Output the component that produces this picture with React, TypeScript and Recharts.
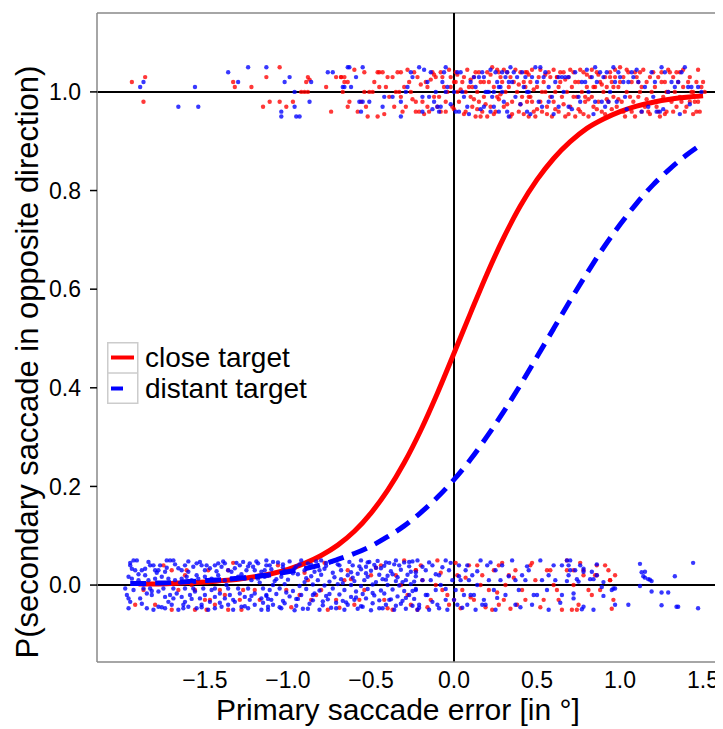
import { ComposedChart, Scatter, Line, XAxis, YAxis, ReferenceLine, Legend } from 'recharts'

const FONT = '"Liberation Sans", Arial, Helvetica, sans-serif'

const xTicks = [-1.5, -1, -0.5, 0, 0.5, 1, 1.5]
const yTicks = [0, 0.2, 0.4, 0.6, 0.8, 1]

// fitted curves
const curveX = [-1.95, -1.9, -1.8, -1.7, -1.6, -1.5, -1.4, -1.3, -1.2, -1.1, -1.0, -0.9, -0.8, -0.7, -0.6, -0.5, -0.4, -0.3, -0.2, -0.1, 0.0,
    0.1, 0.2, 0.3, 0.4, 0.5, 0.6, 0.7, 0.8, 0.9, 1.0, 1.1, 1.2, 1.3, 1.4, 1.5]
const closeCurve = [null, 0.002, 0.002, 0.003, 0.005, 0.006, 0.009, 0.012, 0.017, 0.023, 0.032, 0.044, 0.06, 0.081, 0.109, 0.146, 0.192, 0.248, 0.314, 0.389, 0.47,
    0.552, 0.632, 0.705, 0.769, 0.822, 0.865, 0.899, 0.926, 0.945, 0.96, 0.971, 0.979, 0.985, 0.989, 0.992]
const distantCurve = [0.003, 0.003, 0.004, 0.005, 0.007, 0.009, 0.011, 0.014, 0.017, 0.021, 0.027, 0.033, 0.041, 0.052, 0.064, 0.079, 0.098, 0.12, 0.147, 0.178, 0.214,
    0.255, 0.302, 0.352, 0.406, 0.463, 0.52, 0.577, 0.632, 0.684, 0.731, 0.774, 0.812, 0.844, 0.872, 0.896]

// jittered trials: [error, response]
const closeTop: [number, number][] = [
    [-1.94, 1.02], [-1.86, 1.03], [-1.87, 0.98], [-1.33, 1.02], [-1.32, 1.01], [-1.22, 1.01], [-1.13, 1.03], [-1.05, 1.05], [-1.15, 0.97], [-1.11, 0.98],
    [-1.05, 0.98], [-1.01, 0.97], [-0.97, 0.98], [-0.88, 1.03], [-0.87, 1.025], [-0.89, 1.02], [-0.92, 1.0], [-0.9, 1.0], [-0.88, 1.0], [-0.77, 1.01],
    [-0.74, 0.96], [-0.71, 1.03], [-0.68, 1.03], [-0.66, 1.02],
    [-0.68, 1.03], [-0.66, 1.03], [-0.64, 1.02], [-0.63, 0.98], [-0.64, 0.97], [-0.58, 0.96], [-0.56, 0.98], [-0.54, 1.04], [-0.51, 1.0], [-0.46, 1.04],
    [-0.45, 1.04], [-0.46, 0.95], [-0.43, 1.04], [-0.4, 1.03], [-0.39, 0.99], [-0.41, 1.01], [-0.37, 1.03], [-0.36, 0.97], [-0.34, 1.04], [-0.32, 1.04],
    [-0.32, 0.99], [-0.3, 1.01], [-0.31, 0.96], [-0.29, 0.97], [-0.27, 1.02], [-0.26, 1.0], [-0.24, 1.04], [-0.22, 1.03], [-0.23, 0.98], [-0.21, 0.96],
    [-0.19, 0.98], [-0.17, 1.02], [-0.16, 1.01], [-0.16, 0.97], [-0.13, 1.04], [-0.12, 0.99], [-0.11, 1.03], [-0.1, 0.97], [-0.08, 1.04], [-0.07, 1.03],
    [-0.06, 1.01], [-0.05, 0.98], [-0.05, 0.96], [-0.04, 1.0], [-0.02, 1.03], [-0.02, 1.01], [-0.01, 0.97], [0.01, 1.02], [0.01, 1.04], [0.02, 1.0],
    [0.03, 0.98], [0.05, 1.02], [0.06, 1.03], [0.07, 1.0], [0.07, 0.96], [0.09, 1.01], [0.1, 0.99], [0.11, 0.97], [0.12, 1.03], [0.13, 1.04],
    [0.14, 1.0], [0.15, 0.98], [0.16, 1.02], [0.17, 0.96], [0.18, 0.99], [0.2, 1.04], [0.21, 1.02], [0.22, 0.97], [0.23, 1.05], [0.24, 1.01],
    [0.25, 0.96], [0.26, 0.99], [0.27, 1.04], [0.28, 1.03], [0.3, 0.97], [0.31, 1.0], [0.32, 1.04], [0.33, 1.01], [0.34, 0.95], [0.35, 0.98],
    [0.36, 1.02], [0.38, 1.0], [0.39, 0.96], [0.4, 1.04], [0.41, 0.99], [0.42, 1.02], [0.43, 1.04], [0.44, 0.98], [0.45, 0.95], [0.2, 0.95],
    [0.16, 0.95], [-0.23, 0.96], [-0.15, 0.96], [-0.49, 1.0], [-0.54, 1.0], [-0.67, 1.0], [-0.33, 1.0], [-0.45, 1.01], [-0.08, 0.96], [-0.52, 0.95],
    [0.13, 0.95],
    [0.44, 1.04], [0.46, 1.02], [0.45, 0.99], [0.47, 0.98], [0.48, 0.96], [0.49, 0.95], [0.5, 1.01], [0.51, 1.03], [0.52, 0.98], [0.53, 0.96],
    [0.54, 1.02], [0.55, 1.0], [0.56, 0.97], [0.57, 1.04], [0.58, 1.03], [0.59, 0.95], [0.6, 0.98], [0.61, 1.0], [0.62, 1.03], [0.63, 0.96],
    [0.64, 1.02], [0.65, 0.99], [0.66, 1.04], [0.67, 0.95], [0.68, 1.0], [0.69, 1.03], [0.7, 0.97], [0.71, 1.01], [0.72, 1.04], [0.73, 0.95],
    [0.74, 0.99], [0.75, 1.02], [0.76, 0.96], [0.77, 1.0], [0.78, 1.04], [0.79, 0.98], [0.8, 1.01], [0.81, 0.95], [0.82, 1.03], [0.83, 0.99],
    [0.84, 0.97], [0.85, 1.01], [0.86, 1.04], [0.87, 0.98], [0.88, 1.02], [0.89, 0.96], [0.9, 1.0], [0.91, 1.03], [0.92, 1.01], [0.93, 0.98],
    [0.94, 1.04], [0.95, 1.02], [0.96, 0.99], [0.97, 1.03], [0.98, 0.97], [0.99, 1.01], [1.0, 1.05], [1.01, 0.98], [1.02, 1.03], [1.03, 0.95],
    [1.04, 1.0], [1.05, 1.04], [1.07, 1.02], [1.08, 0.98], [1.09, 0.95], [1.1, 1.03], [1.11, 0.99], [1.12, 1.04], [1.13, 1.01], [1.15, 0.97],
    [1.16, 1.02], [1.17, 0.96], [1.18, 1.03], [1.19, 1.0], [1.21, 1.01], [1.22, 0.97], [1.23, 1.03], [1.24, 0.95], [1.25, 1.04], [1.26, 0.99],
    [1.27, 1.02], [1.28, 0.96], [1.29, 1.0], [1.3, 1.04], [1.31, 0.98], [1.32, 1.03], [1.33, 1.0], [1.34, 0.97], [1.35, 1.02], [1.36, 1.04],
    [1.37, 0.98], [1.38, 1.01], [1.39, 0.96], [1.41, 1.02], [1.42, 0.98], [1.43, 1.0], [1.44, 1.0], [1.45, 0.98], [1.46, 0.96], [1.47, 0.98],
    [1.48, 0.96], [1.49, 1.01], [1.5, 1.02], [1.51, 1.0],
    [-0.28, 1.045], [-0.25, 0.985], [-0.2, 1.015], [-0.18, 0.955], [-0.14, 1.025], [-0.12, 1.035], [-0.09, 0.99], [-0.03, 1.045], [0.0, 0.965], [0.02, 1.035],
    [0.04, 1.005], [0.06, 0.955], [0.08, 1.045], [0.1, 1.025], [0.12, 0.985], [0.14, 0.965], [0.15, 1.04], [0.18, 1.02], [0.19, 0.975], [0.22, 1.035],
    [0.24, 0.955], [0.26, 1.045], [0.27, 0.985], [0.29, 1.02], [0.3, 1.045], [0.32, 0.975], [0.34, 1.03], [0.35, 0.955], [0.37, 1.045], [0.39, 1.015],
    [0.4, 0.975], [0.42, 0.955], [0.43, 1.01], [0.45, 1.035], [0.47, 1.045], [0.48, 1.005], [0.5, 0.965], [0.52, 1.045], [0.53, 1.0], [0.55, 1.035],
    [0.56, 0.955], [0.58, 0.99], [0.6, 1.045], [0.61, 0.965], [0.63, 1.01], [0.64, 1.04], [0.66, 0.975], [0.67, 1.025], [0.69, 0.955], [0.7, 1.045],
    [0.72, 0.99], [0.73, 1.02], [0.75, 0.965], [0.76, 1.045], [0.78, 0.955], [0.8, 1.035], [0.81, 0.985], [0.83, 1.045], [0.84, 1.01], [0.86, 0.965],
    [0.87, 1.035], [0.89, 1.015], [0.91, 0.955], [0.92, 0.985], [0.94, 1.03], [0.95, 0.965], [0.97, 1.045], [0.99, 0.985], [1.0, 1.02], [1.02, 0.96],
    [1.04, 1.045], [1.06, 0.99], [1.07, 0.96], [1.09, 1.04], [1.11, 1.02], [1.13, 0.96], [1.14, 1.045], [1.16, 0.985], [1.18, 0.955], [1.2, 1.04],
    [1.21, 0.98], [1.23, 0.96], [1.25, 1.02], [1.27, 0.955], [1.29, 1.045], [1.3, 0.985], [1.32, 0.96], [1.34, 1.04], [1.36, 0.99], [1.38, 1.045],
    [1.4, 0.97], [1.42, 1.03], [1.44, 0.955], [1.46, 1.02], [1.47, 1.045], [-0.6, 1.045], [-0.53, 0.97], [-0.48, 1.02], [-0.42, 0.955], [-0.35, 1.0],
    [0.0, 1.02], [0.11, 1.01], [0.28, 0.995], [0.46, 0.99], [0.62, 1.03], [0.79, 0.99], [0.96, 1.01], [1.12, 1.0], [1.28, 1.0]
]

const distantTop: [number, number][] = [
    [-1.87, 1.02], [-1.89, 1.01], [-1.56, 1.01], [-1.66, 0.97], [-1.54, 0.97], [-1.36, 1.04], [-1.3, 1.02], [-1.24, 1.05], [-1.13, 1.05], [-0.99, 1.03],
    [-1.02, 1.02], [-0.96, 1.0], [-0.86, 1.02], [-1.04, 0.96], [-1.04, 0.95], [-0.96, 0.97], [-0.95, 0.95], [-0.93, 0.95], [-0.87, 0.98], [-0.76, 1.04],
    [-0.73, 1.04], [-0.66, 1.01],
    [-0.64, 1.05], [-0.63, 1.05], [-0.59, 1.03], [-0.55, 1.05], [-0.67, 1.01], [-0.62, 1.01], [-0.57, 0.98], [-0.55, 0.98], [-0.51, 0.98], [-0.56, 0.96],
    [-0.42, 0.99], [-0.43, 0.97], [-0.37, 0.99], [-0.32, 0.95], [-0.32, 0.98], [-0.29, 1.0], [-0.28, 1.01], [-0.26, 1.04], [-0.25, 1.03], [-0.21, 1.05],
    [-0.19, 0.99], [-0.19, 0.96], [-0.16, 1.02], [-0.14, 1.04], [-0.15, 0.99], [-0.11, 1.0], [-0.12, 0.98], [-0.1, 0.97], [-0.09, 0.96], [-0.08, 0.97],
    [-0.06, 1.04], [-0.05, 1.05], [-0.05, 1.0], [-0.04, 1.01], [0.0, 1.0], [0.01, 0.96], [0.03, 0.96], [0.04, 1.04], [0.08, 0.97], [0.1, 1.02],
    [0.12, 1.03], [0.15, 1.03], [0.17, 1.04], [0.18, 1.03], [0.19, 1.0], [0.2, 1.0], [0.21, 1.0], [0.23, 0.99], [0.24, 1.0], [0.25, 1.04],
    [0.26, 1.02], [0.28, 1.01], [0.29, 1.0], [0.3, 0.98], [0.31, 1.03], [0.32, 0.96], [0.33, 0.95], [0.34, 1.05], [0.35, 1.02], [0.36, 1.04],
    [0.37, 0.99], [0.38, 1.03], [0.41, 1.04], [0.43, 1.03], [0.44, 1.0], [0.32, 1.04], [0.29, 1.04], [0.24, 0.97], [0.22, 0.96], [0.18, 0.97],
    [0.49, 1.05], [0.47, 1.03], [0.45, 1.0], [0.44, 0.96], [0.52, 1.05], [0.54, 1.03], [0.55, 1.04], [0.57, 1.01], [0.59, 0.99], [0.61, 1.02],
    [0.63, 1.03], [0.65, 1.03], [0.67, 1.03], [0.69, 1.03], [0.73, 1.04], [0.75, 0.99], [0.76, 0.98], [0.77, 1.02], [0.79, 1.02], [0.81, 1.0],
    [0.83, 1.03], [0.85, 1.05], [0.86, 1.02], [0.88, 1.04], [0.9, 1.03], [0.92, 1.04], [0.94, 1.0], [0.96, 1.05], [0.97, 1.02], [0.98, 0.98],
    [1.0, 1.03], [1.02, 1.02], [1.03, 0.99], [1.05, 1.02], [1.07, 1.04], [1.08, 1.03], [1.11, 1.02], [1.13, 0.96], [1.15, 1.01], [1.17, 0.97],
    [1.19, 1.04], [1.21, 1.02], [1.22, 0.96], [1.24, 0.96], [1.25, 1.05], [1.27, 1.04], [1.29, 1.0], [1.31, 1.02], [1.33, 1.01], [1.35, 1.02],
    [1.37, 1.04], [1.39, 1.05], [1.41, 1.01], [1.43, 1.01], [1.47, 1.01], [1.49, 1.0], [0.51, 0.98], [0.57, 0.98], [0.63, 0.97], [0.69, 0.97],
    [0.89, 0.98], [0.93, 0.98], [0.85, 0.98],
    [-0.18, 1.045], [-0.13, 0.965], [-0.07, 1.02], [-0.02, 0.975], [0.02, 1.04], [0.06, 0.99], [0.09, 0.955], [0.13, 1.01], [0.16, 0.965], [0.22, 1.045],
    [0.27, 0.96], [0.33, 1.02], [0.4, 0.975], [0.46, 0.955], [0.5, 1.02], [0.53, 0.97], [0.6, 0.955], [0.66, 1.0], [0.71, 0.965], [0.8, 1.045],
    [0.84, 0.955], [0.91, 0.97], [0.99, 1.04], [1.04, 0.965], [1.1, 1.045], [1.2, 0.99], [1.26, 0.965], [1.36, 0.955], [1.42, 0.975], [0.05, 1.0],
    [0.27, 1.01], [0.42, 1.01]
]

const closeBottom: [number, number][] = [
    [-1.75, 0.04], [-1.61, 0.03], [-1.58, 0.0], [-1.48, 0.03], [-1.7, 0.03], [-1.87, -0.01], [-1.66, -0.01], [-1.56, -0.01], [-1.5, -0.03], [-1.47, -0.03],
    [-1.44, -0.04], [-1.29, -0.03], [-1.8, -0.04], [-1.7, -0.05], [-1.56, -0.05], [-1.49, -0.05], [-1.36, -0.05], [-1.28, -0.05], [-1.38, -0.02], [-1.27, -0.01],
    [-1.2, -0.01], [-1.36, 0.03],
    [-1.12, 0.02], [-1.01, -0.01], [-0.93, -0.02], [-0.86, -0.03], [-0.8, -0.01], [-0.76, -0.05], [-0.71, -0.03], [-0.66, 0.01], [-0.6, -0.04], [-0.54, -0.01],
    [-0.5, 0.02], [-0.42, -0.03], [-0.37, -0.05], [-0.32, 0.0], [-0.26, -0.04], [-0.23, 0.03], [-0.3, 0.05], [-0.88, 0.01], [-0.64, 0.03], [-0.44, 0.04],
    [-0.23, 0.03], [-0.19, 0.01], [-0.14, -0.03], [-0.1, 0.05], [-0.07, -0.01], [-0.03, -0.04], [0.02, 0.02], [0.05, -0.01], [0.09, 0.04], [0.12, -0.03],
    [0.17, 0.02], [0.21, -0.01], [0.27, 0.04], [0.3, -0.03], [0.33, 0.02], [0.38, -0.04], [0.41, -0.01], [0.46, 0.04], [0.49, 0.01], [0.54, -0.03],
    [0.58, 0.03], [0.62, -0.01], [0.65, -0.05], [0.68, 0.05], [0.23, -0.05], [0.37, 0.03], [0.31, 0.0], [0.27, -0.04], [0.16, 0.0], [-0.11, 0.0],
    [-0.22, -0.05], [0.0, -0.03],
    [0.68, 0.03], [0.72, 0.03], [0.78, 0.03], [0.78, 0.02], [0.86, 0.04], [0.86, 0.02], [0.85, 0.02], [0.93, 0.03], [0.97, 0.02], [0.94, 0.01],
    [0.94, 0.01], [0.72, 0.0], [0.81, -0.01], [0.88, -0.01], [0.96, -0.03], [0.71, -0.05], [0.74, -0.05], [0.75, -0.04],
    [-1.92, -0.04], [-1.62, 0.02], [-1.41, -0.01], [-1.33, 0.045], [-1.17, -0.03], [-1.06, 0.04], [-0.98, -0.045], [-0.9, 0.025], [-0.83, -0.02], [-0.78, 0.045],
    [-0.69, -0.046], [-0.62, 0.012], [-0.57, -0.03], [-0.47, 0.035], [-0.4, -0.047], [-0.35, 0.02], [-0.28, -0.02], [-0.2, 0.04], [-0.16, -0.045], [-0.08, 0.025],
    [-0.04, -0.02], [0.01, 0.045], [0.04, -0.047], [0.07, 0.015], [0.1, -0.025], [0.14, 0.04], [0.19, -0.045], [0.24, 0.03], [0.26, -0.015], [0.29, 0.045],
    [0.34, -0.048], [0.36, 0.015], [0.43, -0.03], [0.47, 0.045], [0.52, -0.045], [0.56, 0.03], [0.6, 0.0], [0.63, -0.03], [0.76, 0.045], [0.83, -0.02],
    [0.91, 0.04], [0.95, -0.048]
]

const distantBottom: [number, number][] = [
    [-1.95, 0.04], [-1.93, 0.05], [-1.91, 0.05], [-1.92, 0.03], [-1.94, 0.033], [-1.88, 0.03], [-1.86, 0.033], [-1.83, 0.04], [-1.81, 0.04], [-1.8, 0.03],
    [-1.78, 0.03], [-1.77, 0.04], [-1.73, 0.05], [-1.71, 0.05], [-1.69, 0.05], [-1.74, 0.027], [-1.66, 0.034], [-1.64, 0.03], [-1.62, 0.04], [-1.6, 0.027],
    [-1.57, 0.037], [-1.55, 0.044], [-1.53, 0.047], [-1.52, 0.04], [-1.5, 0.03], [-1.47, 0.034], [-1.44, 0.04], [-1.42, 0.044], [-1.4, 0.037], [-1.38, 0.044],
    [-1.36, 0.03], [-1.34, 0.027], [-1.32, 0.034], [-1.29, 0.04], [-1.27, 0.047], [-1.25, 0.03], [-1.23, 0.044], [-1.21, 0.037], [-1.2, 0.03], [-1.18, 0.044],
    [-1.16, 0.027], [-1.13, 0.04], [-1.12, 0.02],
    [-1.96, 0.017], [-1.94, 0.013], [-1.9, 0.01], [-1.86, 0.02], [-1.84, 0.01], [-1.8, 0.013], [-1.76, 0.017], [-1.72, 0.013], [-1.68, 0.01], [-1.64, 0.013],
    [-1.61, 0.017], [-1.58, 0.01], [-1.54, 0.013], [-1.5, 0.017], [-1.46, 0.013], [-1.42, 0.02], [-1.38, 0.01], [-1.34, 0.013], [-1.3, 0.017], [-1.26, 0.013],
    [-1.22, 0.01], [-1.18, 0.013], [-1.14, 0.017],
    [-1.97, -0.02], [-1.96, -0.027], [-1.95, -0.034], [-1.96, -0.047], [-1.89, -0.027], [-1.85, -0.017], [-1.82, -0.02], [-1.78, -0.013], [-1.74, -0.024], [-1.72, -0.034],
    [-1.69, -0.027], [-1.67, -0.017], [-1.64, -0.024], [-1.62, -0.034], [-1.59, -0.02], [-1.56, -0.013], [-1.53, -0.027], [-1.5, -0.02], [-1.47, -0.034], [-1.44, -0.024],
    [-1.41, -0.017], [-1.38, -0.027], [-1.35, -0.02], [-1.32, -0.034], [-1.29, -0.017], [-1.26, -0.024], [-1.23, -0.03], [-1.2, -0.017], [-1.16, -0.027], [-1.13, -0.02],
    [-1.85, -0.047], [-1.81, -0.05], [-1.78, -0.044], [-1.74, -0.047], [-1.7, -0.04], [-1.66, -0.05], [-1.63, -0.047], [-1.6, -0.044], [-1.55, -0.047], [-1.52, -0.04],
    [-1.48, -0.05], [-1.44, -0.047], [-1.4, -0.044], [-1.36, -0.04], [-1.33, -0.05], [-1.28, -0.044], [-1.24, -0.047], [-1.2, -0.04], [-1.16, -0.05], [-1.12, -0.044],
    [-1.98, -0.007], [-1.93, -0.01], [-1.87, -0.007], [-1.83, -0.007], [-1.75, -0.007], [-1.69, -0.007], [-1.62, -0.007], [-1.57, -0.007], [-1.51, -0.007], [-1.44, -0.007],
    [-1.36, -0.007], [-1.3, -0.007], [-1.24, -0.007], [-1.15, -0.007],
    [-1.13, 0.05], [-1.06, 0.046], [-0.92, 0.05], [-0.88, 0.044], [-0.8, 0.05], [-0.74, 0.047], [-0.56, 0.05], [-0.52, 0.046], [-0.46, 0.049], [-0.39, 0.045],
    [-0.35, 0.05], [-0.3, 0.046], [-0.25, 0.048],
    [-1.1, 0.032], [-1.02, 0.028], [-0.96, 0.034], [-0.9, 0.03], [-0.84, 0.027], [-0.78, 0.033], [-0.68, 0.03], [-0.62, 0.026], [-0.56, 0.032], [-0.5, 0.029],
    [-0.44, 0.034], [-0.38, 0.028], [-0.32, 0.031], [-0.26, 0.027],
    [-1.12, 0.02], [-1.04, 0.017], [-0.94, 0.022], [-0.86, 0.018], [-0.8, 0.021], [-0.72, 0.016], [-0.64, 0.02], [-0.58, 0.023], [-0.52, 0.017], [-0.45, 0.021],
    [-0.4, 0.019], [-0.34, 0.016], [-0.28, 0.021], [-0.23, 0.018],
    [-1.08, 0.008], [-1.0, 0.011], [-0.9, 0.006], [-0.82, 0.01], [-0.75, 0.007], [-0.68, 0.012], [-0.6, 0.008], [-0.54, 0.01], [-0.47, 0.006], [-0.41, 0.011],
    [-0.35, 0.008], [-0.29, 0.01], [-0.24, 0.007],
    [-1.11, -0.01], [-1.05, -0.007], [-0.97, -0.012], [-0.89, -0.008], [-0.81, -0.011], [-0.73, -0.007], [-0.66, -0.01], [-0.59, -0.013], [-0.52, -0.008], [-0.44, -0.011],
    [-0.37, -0.009], [-0.3, -0.012], [-0.23, -0.008],
    [-1.13, -0.022], [-1.07, -0.018], [-0.99, -0.023], [-0.92, -0.02], [-0.84, -0.017], [-0.77, -0.022], [-0.69, -0.019], [-0.62, -0.024], [-0.55, -0.018], [-0.48, -0.021],
    [-0.42, -0.017], [-0.34, -0.023], [-0.27, -0.02],
    [-1.09, -0.04], [-1.02, -0.037], [-0.95, -0.042], [-0.87, -0.038], [-0.79, -0.041], [-0.71, -0.036], [-0.64, -0.04], [-0.56, -0.043], [-0.49, -0.037], [-0.41, -0.04],
    [-0.32, -0.038], [-0.25, -0.042],
    [-1.12, -0.05], [-1.04, -0.047], [-0.96, -0.051], [-0.88, -0.048], [-0.81, -0.05], [-0.74, -0.046], [-0.66, -0.05], [-0.58, -0.048], [-0.5, -0.051], [-0.43, -0.047],
    [-0.36, -0.05], [-0.29, -0.048], [-0.22, -0.05],
    [-1.11, 0.04], [-1.03, 0.042], [-0.95, 0.038], [-0.86, 0.041], [-0.77, 0.039], [-0.7, 0.042], [-0.61, 0.04], [-0.53, 0.037], [-0.48, 0.041], [-0.42, 0.039],
    [-0.36, 0.042], [-0.27, 0.038],
    [-1.09, 0.0], [-1.02, 0.002], [-0.93, -0.002], [-0.85, 0.001], [-0.78, -0.001], [-0.7, 0.002], [-0.62, 0.0], [-0.56, -0.002], [-0.49, 0.001], [-0.4, 0.0],
    [-0.33, -0.001], [-0.26, 0.002],
    [-1.1, -0.03], [-1.03, -0.032], [-0.94, -0.028], [-0.85, -0.031], [-0.76, -0.029], [-0.67, -0.032], [-0.6, -0.03], [-0.53, -0.027], [-0.45, -0.031], [-0.38, -0.029],
    [-0.31, -0.032], [-0.24, -0.028],
    [-0.22, 0.05], [-0.17, 0.03], [-0.13, 0.04], [-0.09, 0.02], [-0.05, 0.05], [-0.03, 0.03], [0.03, 0.04], [0.07, 0.03], [0.11, 0.02], [0.16, 0.05],
    [0.2, 0.04], [0.25, 0.03], [0.29, 0.04], [0.35, 0.05], [0.41, 0.02], [0.45, 0.03], [0.52, 0.05], [0.57, 0.02], [0.65, 0.04], [0.69, 0.02],
    [-0.19, 0.01], [-0.14, 0.01], [-0.08, 0.0], [-0.01, 0.01], [0.04, 0.01], [0.09, 0.01], [0.14, 0.0], [0.21, 0.01], [0.28, 0.01], [0.37, 0.01],
    [0.43, 0.01], [0.53, 0.01], [0.61, 0.01],
    [-0.23, -0.01], [-0.16, -0.02], [-0.11, -0.01], [-0.05, -0.03], [0.01, -0.01], [0.06, -0.02], [0.12, -0.02], [0.18, -0.03], [0.24, -0.01], [0.31, -0.02],
    [0.39, -0.01], [0.48, -0.02], [0.56, -0.01], [0.65, -0.02],
    [-0.21, -0.04], [-0.15, -0.05], [-0.1, -0.04], [-0.04, -0.05], [0.02, -0.04], [0.08, -0.04], [0.13, -0.05], [0.19, -0.04], [0.25, -0.05], [0.37, -0.04],
    [0.47, -0.04], [0.57, -0.05],
    [0.68, 0.05], [0.7, 0.05], [0.69, 0.04], [0.7, 0.03], [0.73, 0.03], [0.76, 0.04], [0.78, 0.033], [0.78, 0.027], [0.86, 0.042], [0.83, 0.027],
    [0.86, 0.02], [0.74, 0.012], [0.68, 0.008], [0.75, 0.007], [0.82, 0.012], [0.84, 0.012], [0.9, 0.006], [0.89, -0.004], [0.96, -0.007], [0.97, -0.007],
    [0.95, -0.01], [0.72, -0.017], [0.72, -0.027], [0.9, -0.022], [0.78, -0.044], [0.77, -0.049], [0.84, -0.05], [0.97, -0.04], [1.05, -0.04], [1.12, 0.043],
    [1.13, 0.026], [1.15, 0.027], [1.14, 0.018], [1.15, 0.015], [1.17, 0.012], [1.18, 0.011], [1.19, 0.008], [1.12, -0.002], [1.19, -0.013], [1.25, -0.015],
    [1.29, -0.015], [1.33, 0.018], [1.44, 0.045], [1.25, -0.041], [1.34, -0.044], [1.35, -0.044], [1.47, -0.047],
    [-1.95, 0.045], [-1.9, 0.022], [-1.88, -0.038], [-1.84, 0.047], [-1.82, -0.012], [-1.79, 0.025], [-1.76, -0.045], [-1.73, 0.035], [-1.71, -0.02], [-1.68, 0.042],
    [-1.65, 0.005], [-1.63, -0.04], [-1.6, 0.048], [-1.58, -0.028], [-1.55, 0.02], [-1.52, -0.045], [-1.49, 0.04], [-1.46, -0.01], [-1.43, 0.028], [-1.41, -0.036],
    [-1.39, 0.048], [-1.37, 0.0], [-1.33, -0.03], [-1.31, 0.045], [-1.28, 0.022], [-1.26, -0.043], [-1.24, 0.038], [-1.22, -0.022], [-1.19, 0.048], [-1.17, 0.005],
    [-1.15, -0.036], [-1.14, 0.03],
    [-1.12, -0.028], [-1.09, 0.047], [-1.07, 0.012], [-1.05, -0.045], [-1.03, 0.036], [-1.01, -0.015], [-0.99, 0.048], [-0.97, 0.024], [-0.95, -0.028], [-0.93, 0.042],
    [-0.91, -0.048], [-0.89, 0.014], [-0.87, 0.036], [-0.85, -0.02], [-0.83, 0.048], [-0.81, 0.03], [-0.79, -0.033], [-0.77, 0.045], [-0.75, -0.018], [-0.73, 0.025],
    [-0.71, -0.047], [-0.69, 0.04], [-0.67, 0.004], [-0.65, -0.035], [-0.63, 0.047], [-0.61, 0.015], [-0.59, -0.025], [-0.57, 0.038], [-0.55, -0.044], [-0.53, 0.024],
    [-0.51, 0.047], [-0.49, -0.016], [-0.47, 0.035], [-0.45, -0.047], [-0.43, 0.012], [-0.41, 0.046], [-0.39, -0.03], [-0.37, 0.022], [-0.35, -0.042], [-0.33, 0.04],
    [-0.31, 0.006], [-0.29, -0.026], [-0.27, 0.047], [-0.25, -0.012], [-0.23, 0.026], [-0.21, -0.046], [-0.19, 0.037], [-0.17, -0.02], [-0.15, 0.046], [-0.13, -0.034],
    [-0.11, 0.022], [-0.09, -0.047], [-0.07, 0.036], [-0.05, -0.008], [-0.02, 0.045], [0.0, -0.03], [0.03, 0.018], [0.05, -0.046], [0.08, 0.04], [0.1, -0.02],
    [0.14, 0.028], [0.17, -0.04], [0.22, 0.046], [0.26, -0.026], [0.33, 0.018], [0.4, -0.045], [0.44, 0.038], [0.5, -0.02], [0.6, 0.04], [0.64, -0.036]
]

const toPoints = (rows: [number, number][]) => rows.map(([x, y]) => ({ x, y }))
const closeLine = curveX.map((x, i) => ({ x, y: closeCurve[i] }))
const distantLine = curveX.map((x, i) => ({ x, y: distantCurve[i] }))

const legendItems = [
    { name: 'close target', color: '#ff0000', len: 23 },
    { name: 'distant target', color: '#0000ff', len: 12 }
]

const fmt = (v: number) => (v < 0 ? '\u2212' : '') + Math.abs(v).toFixed(1)

const dot = (color: string) => (props: any) => (
    <circle cx={props.cx} cy={props.cy} r={2.2} fill={color} fillOpacity={0.78} />
)

function TrialLegend() {
    return (
        <div style={{ fontFamily: FONT, fontSize: 28, color: '#000' }}>
            {legendItems.map((item, i) => (
                <div key={item.name} style={{ display: 'flex', alignItems: 'center', height: 31 }}>
                    <svg width={32} height={31} style={{ display: 'block' }}>
                        <rect x={0.75} y={i === 0 ? 0.75 : 0} width={30} height={30.25}
                            fill="#fff" stroke="#cccccc" strokeWidth={1.5} />
                        <line x1={4} x2={4 + item.len} y1={15.5} y2={15.5} stroke={item.color} strokeWidth={4} />
                    </svg>
                    <span style={{ marginLeft: 6, lineHeight: '31px' }}>{item.name}</span>
                </div>
            ))}
        </div>
    )
}

function XTitle() {
    return (
        <text x={390} y={712} textAnchor="middle" fontFamily={FONT} fontSize={30} fill="#000">
            Primary saccade error [in °]
        </text>
    )
}

function YTitle() {
    return (
        <text x={30} y={354} transform="rotate(-90 30 354)" textAnchor="middle" fontFamily={FONT} fontSize={31} fill="#000">
            P(secondary saccade in opposite direction)
        </text>
    )
}

export default function App() {
    return (
        <div style={{ width: 715, height: 721, fontFamily: FONT, background: '#fff' }}>
            <ComposedChart width={715} height={721} margin={{ top: 5, right: 0, bottom: 0, left: 0 }}>
                <XAxis
                    type="number"
                    dataKey="x"
                    domain={[-2.15, 1.62]}
                    ticks={xTicks}
                    tickFormatter={fmt}
                    allowDataOverflow
                    height={67}
                    tickLine={false}
                    tickSize={0}
                    tickMargin={10}
                    axisLine={{ stroke: '#888', strokeWidth: 1.5 }}
                    tick={{ fontSize: 23, fill: '#000', fontFamily: FONT }}
                    label={<XTitle />}
                />
                <YAxis
                    type="number"
                    dataKey="y"
                    domain={[-0.156, 1.16]}
                    ticks={yTicks}
                    tickFormatter={fmt}
                    allowDataOverflow
                    width={89}
                    tickSize={7}
                    tickMargin={9}
                    tickLine={{ stroke: '#000', strokeWidth: 1.5 }}
                    axisLine={{ stroke: '#888', strokeWidth: 1.5 }}
                    tick={{ fontSize: 23, fill: '#000', fontFamily: FONT }}
                    label={<YTitle />}
                />
                <ReferenceLine y={1.16} stroke="#888" strokeWidth={1.5} />
                <Scatter data={toPoints(closeTop)} dataKey="y" shape={dot('#ff0000')} isAnimationActive={false} />
                <Scatter data={toPoints(closeBottom)} dataKey="y" shape={dot('#ff0000')} isAnimationActive={false} />
                <Scatter data={toPoints(distantTop)} dataKey="y" shape={dot('#0000ff')} isAnimationActive={false} />
                <Scatter data={toPoints(distantBottom)} dataKey="y" shape={dot('#0000ff')} isAnimationActive={false} />
                <ReferenceLine x={0} stroke="#000" strokeWidth={2} />
                <ReferenceLine y={0} stroke="#000" strokeWidth={2} />
                <ReferenceLine y={1} stroke="#000" strokeWidth={2} />
                <Line data={closeLine} dataKey="y" type="monotone" stroke="#ff0000" strokeWidth={5}
                    dot={false} activeDot={false} isAnimationActive={false} />
                <Line data={distantLine} dataKey="y" type="monotone" stroke="#0000ff" strokeWidth={5}
                    strokeDasharray="16 9" dot={false} activeDot={false} isAnimationActive={false} />
                <Legend
                    layout="horizontal"
                    verticalAlign="middle"
                    align="center"
                    content={<TrialLegend />}
                    wrapperStyle={{ left: 99, top: 334, width: 'auto', height: 'auto' }}
                />
            </ComposedChart>
        </div>
    )
}
